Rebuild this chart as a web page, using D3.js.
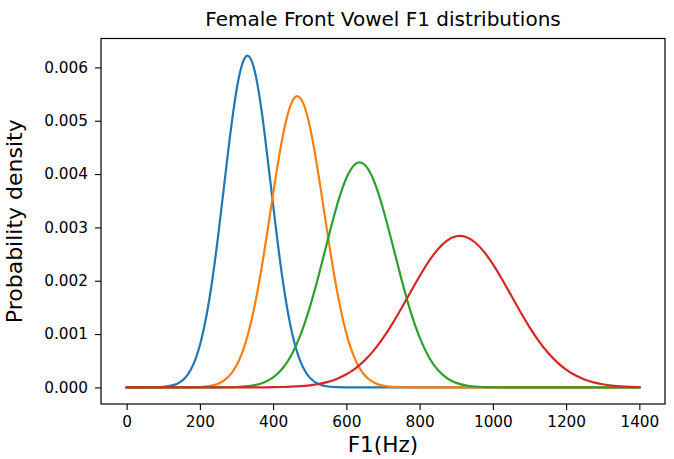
<!DOCTYPE html>
<html>
<head>
<meta charset="utf-8">
<script src="https://cdn.jsdelivr.net/npm/d3@7"></script>
<style>
  html, body { margin: 0; padding: 0; background: #ffffff; }
  svg { display: block; font-family: "DejaVu Sans", sans-serif; }
</style>
</head>
<body>
<svg id="chart" width="674" height="459"></svg>
<script>
// F1 frequency grid (Hz)
const freqs = [0,25,50,75,100,125,150,175,200,225,250,275,300,325,350,375,400,425,450,475,
  500,525,550,575,600,625,650,675,700,725,750,775,800,825,850,875,900,925,950,975,
  1000,1025,1050,1075,1100,1125,1150,1175,1200,1225,1250,1275,1300,1325,1350,1375,1400];

// Probability density of each front vowel's F1 at the grid frequencies
const vowelI = [0,0.0000001,0.0000004,0.0000022,0.0000098,0.0000368,0.000119,0.000331,0.000791,0.001619,
  0.002848,0.004300,0.005572,0.006201,0.005924,0.004858,0.003420,0.002068,0.001072,0.000478,
  0.000183,0.0000600,0.0000169,0.0000041,0.0000009,0.0000002,0,0,0,0,
  0,0,0,0,0,0,0,0,0,0,0,0,0,0,0,0,0,0,0,0,0,0,0,0,0,0,0];
const vowelE = [0,0,0,0,0,0,0.0000005,0.0000019,0.0000072,0.0000235,
  0.0000686,0.000178,0.000411,0.000845,0.001545,0.002511,0.003628,0.004663,0.005331,0.005419,
  0.004899,0.003938,0.002816,0.001791,0.001013,0.000510,0.000228,0.0000907,0.0000321,0.0000101,
  0.0000028,0.0000007,0.0000002,0,0,0,0,0,0,0,0,0,0,0,0,0,0,0,0,0,0,0,0,0,0,0,0];
const vowelEh = [0,0,0,0,0,0,0,0,0.0000001,0.0000003,
  0.0000010,0.0000029,0.0000076,0.0000188,0.0000433,0.0000931,0.000187,0.000349,0.000609,0.000989,
  0.001499,0.002117,0.002789,0.003427,0.003925,0.004192,0.004174,0.003875,0.003355,0.002708,
  0.002039,0.001430,0.000936,0.000571,0.000325,0.000172,0.0000852,0.0000393,0.0000169,0.0000068,
  0.0000025,0.0000009,0.0000003,0.0000001,0,0,0,0,0,0,0,0,0,0,0,0,0];
const vowelAe = [0,0,0,0,0,0,0,0,0,0,
  0,0.0000001,0.0000002,0.0000005,0.0000010,0.0000019,0.0000037,0.0000070,0.0000129,0.0000227,
  0.0000390,0.0000648,0.000104,0.000162,0.000245,0.000358,0.000506,0.000694,0.000922,0.001186,
  0.001478,0.001784,0.002085,0.002362,0.002591,0.002753,0.002833,0.002824,0.002726,0.002550,
  0.002310,0.002027,0.001723,0.001418,0.001131,0.000874,0.000654,0.000474,0.000333,0.000226,
  0.000149,0.0000949,0.0000586,0.0000351,0.0000203,0.0000114,0.0000062];

const seriesList = [vowelI, vowelE, vowelEh, vowelAe];
const seriesColors = ["#1f77b4", "#ff7f0e", "#2ca02c", "#d62728"];

const xTicks = [0, 200, 400, 600, 800, 1000, 1200, 1400];
const yTicks = [0, 0.001, 0.002, 0.003, 0.004, 0.005, 0.006];

const titleText = "Female Front Vowel F1 distributions";
const xLabelText = "F1(Hz)";
const yLabelText = "Probability density";

// Plot frame
const margin = { left: 101, top: 38.5, right: 9, bottom: 55 };
const W = 674, H = 459;
const plotW = W - margin.left - margin.right;
const plotH = H - margin.top - margin.bottom;

const svg = d3.select("#chart");
const g = svg.append("g").attr("transform", `translate(${margin.left},${margin.top})`);

// Axis limits padded by 5% of the data range on each side
const xPad = (d3.max(freqs) - d3.min(freqs)) * 0.05;
const yPad = 0.00623 * 0.05;
const x = d3.scaleLinear().domain([d3.min(freqs) - xPad, d3.max(freqs) + xPad]).range([0, plotW]);
const y = d3.scaleLinear().domain([0 - yPad, 0.00623 + yPad]).range([plotH, 0]);

// Density curves, smoothed with a natural cubic spline through the samples
const line = d3.line()
  .x((d, i) => x(freqs[i]))
  .y(d => y(d))
  .curve(d3.curveNatural);

g.selectAll("path.curve")
  .data(seriesList)
  .join("path")
  .attr("class", "curve")
  .attr("d", d => line(d))
  .attr("fill", "none")
  .attr("stroke", (d, i) => seriesColors[i])
  .attr("stroke-width", 2.2)
  .attr("stroke-linejoin", "round")
  .attr("stroke-linecap", "square");

// Axes
const xAxis = d3.axisBottom(x).tickValues(xTicks).tickFormat(d3.format("d")).tickSize(6).tickPadding(6);
const yAxis = d3.axisLeft(y).tickValues(yTicks).tickFormat(d3.format(".3f")).tickSize(6).tickPadding(7);

const gx = g.append("g").attr("transform", `translate(0,${plotH})`).call(xAxis);
const gy = g.append("g").call(yAxis);
[gx, gy].forEach(a => {
  a.select(".domain").remove();
  a.selectAll(".tick line").attr("stroke", "#000").attr("stroke-width", 1.1);
  a.selectAll(".tick text").attr("fill", "#000").style("font-size", "15.3px")
    .style("font-family", "'DejaVu Sans', sans-serif");
});

// Frame
g.append("rect")
  .attr("x", 0).attr("y", 0).attr("width", plotW).attr("height", plotH)
  .attr("fill", "none").attr("stroke", "#000").attr("stroke-width", 1.2);

// Title and axis labels
svg.append("text")
  .attr("x", margin.left + plotW / 2).attr("y", 25.5)
  .attr("text-anchor", "middle")
  .style("font-size", "20px")
  .text(titleText);

svg.append("text")
  .attr("x", margin.left + plotW / 2).attr("y", 452)
  .attr("text-anchor", "middle")
  .style("font-size", "21.6px")
  .text(xLabelText);

svg.append("text")
  .attr("transform", `translate(22,${margin.top + plotH / 2}) rotate(-90)`)
  .attr("text-anchor", "middle")
  .style("font-size", "22px")
  .text(yLabelText);
</script>
</body>
</html>
